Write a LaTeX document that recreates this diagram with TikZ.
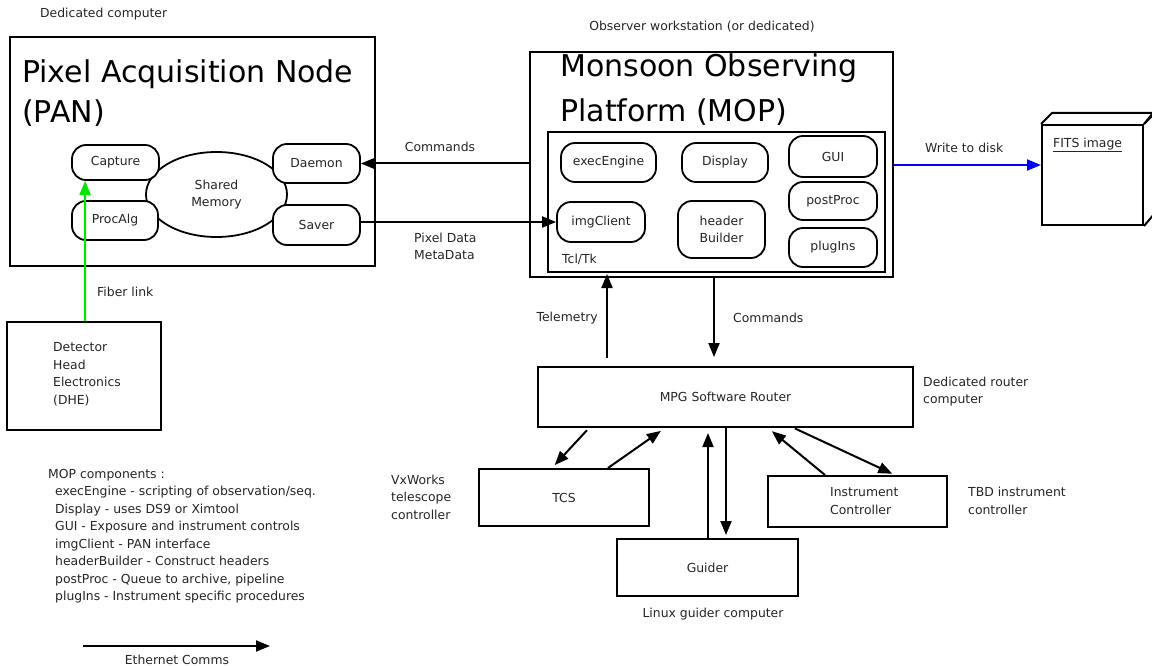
\documentclass[tikz,border=0pt]{standalone}
\usepackage{fontspec}
\setmainfont{DejaVu Sans}
\usetikzlibrary{arrows.meta,shapes.geometric}
\begin{document}
\begin{tikzpicture}[x=1pt,y=-1pt,
  every node/.style={font=\fontsize{12.4}{17.5}\selectfont, inner sep=0pt, text=black!85},
  box/.style={draw, line width=2pt, rectangle},
  pill/.style={draw, line width=1.8pt, rounded corners=14pt, fill=white, align=center},
  arr/.style={line width=2pt, -{Triangle[length=14pt,width=11pt]}},
  big/.style={font=\fontsize{30}{40}\selectfont, anchor=base west, text=black},
  txt/.style={align=left, anchor=west},
]
\useasboundingbox (0,0) rectangle (1152,666);
\fill[white] (0,0) rectangle (1152,666);

% ---------- PAN ----------
\node[box, minimum width=365, minimum height=229] (PAN) at (192.5,151.5) {};
\node[big] (pant1) at (22,83) {Pixel Acquisition Node};
\node[big] (pant2) at (22,123) {(PAN)};
\node[draw, line width=1.8pt, ellipse, minimum width=141, minimum height=85, align=center] (SM) at (216.5,194.5) {Shared\\Memory};
\node[pill, minimum width=87, minimum height=35] (Capture) at (115.5,162.5) {Capture};
\node[pill, minimum width=86, minimum height=39] (ProcAlg) at (115,220.5) {ProcAlg};
\node[pill, minimum width=87, minimum height=39] (Daemon) at (316.5,163.5) {Daemon};
\node[pill, minimum width=87, minimum height=40] (Saver) at (316.5,225) {Saver};
\node[anchor=west] (dedc) at (40,14) {Dedicated computer};

% ---------- MOP ----------
\node[box, minimum width=363, minimum height=225] (MOP) at (711.5,164.5) {};
\node[big] (mopt1) at (560,77) {Monsoon Observing};
\node[big] (mopt2) at (560,122) {Platform (MOP)};
\node[box, minimum width=337, minimum height=140] (TCL) at (716.5,202) {};
\node[anchor=west] (tcltk) at (562,259) {Tcl/Tk};
\node[pill, minimum width=95, minimum height=39] (exec) at (608.5,162.5) {execEngine};
\node[pill, minimum width=86, minimum height=39] (disp) at (725,162.5) {Display};
\node[pill, minimum width=88, minimum height=41] (gui) at (833,156.5) {GUI};
\node[pill, minimum width=88, minimum height=38] (post) at (833,201) {postProc};
\node[pill, minimum width=88, minimum height=39] (plug) at (833,247.5) {plugIns};
\node[pill, minimum width=88, minimum height=40] (img) at (601,222) {imgClient};
\node[pill, minimum width=87, minimum height=57] (hdr) at (721.5,229.5) {header\\Builder};
\node (obs) at (702,27) {Observer workstation (or dedicated)};

% ---------- PAN <-> MOP ----------
\draw[arr] (MOP.west |- Daemon.east) -- (Daemon.east);
\node (cmdl) at (440,147) {Commands};
\draw[arr] ([yshift=3pt]Saver.east) -- (img.west);
\node[txt] (pdl) at (414,246.5) {Pixel Data\\MetaData};

% ---------- FITS ----------
\node[box, minimum width=101, minimum height=100] (FITS) at (1092.5,175) {};
\draw[line width=2pt, line join=round] (FITS.north west) -- ++(11,-11) -- ++(101,0) -- (FITS.north east);
\draw[line width=2pt, line join=round] (FITS.north east) -- ++(11,-11) -- ++(0,100) -- (FITS.south east);
\node[anchor=west] (fitsl) at (1053,145) {\underline{FITS image}};
\draw[arr, blue] ([yshift=-0.5pt]MOP.east) -- ([yshift=-0.5pt]MOP.east -| FITS.west);
\node[anchor=west] (wtd) at (925,148) {Write to disk};

% ---------- Router ----------
\node[box, minimum width=375, minimum height=60] (R) at (725.5,397) {MPG Software Router};
\node[txt] (drc) at (923,391.5) {Dedicated router\\computer};
\coordinate (telx) at (607,0);
\coordinate (cmdx) at (714,0);
\draw[arr, shorten <=8pt, shorten >=-4pt] (R.north -| telx) -- (MOP.south -| telx);
\node[anchor=east] (telel) at (598,318) {Telemetry};
\draw[arr, shorten >=9pt] (MOP.south -| cmdx) -- (R.north -| cmdx);
\node[anchor=west] (cmd2l) at (733,318) {Commands};

% ---------- TCS ----------
\node[box, minimum width=170, minimum height=57] (TCS) at (564,497.5) {TCS};
\node[txt] (vxl) at (391,497) {VxWorks\\telescope\\controller};
\draw[arr, shorten <=3pt, shorten >=4pt] ([xshift=52pt]R.south west) -- ([xshift=74pt]TCS.north west);
\draw[arr, shorten >=5pt] ([xshift=130pt]TCS.north west) -- ([xshift=128pt]R.south west);

% ---------- Guider ----------
\node[box, minimum width=181, minimum height=57] (G) at (707.5,567.5) {Guider};
\node (lgc) at (713,614) {Linux guider computer};
\draw[arr, shorten >=5pt] ([xshift=92pt]G.north west) -- ([xshift=171pt]R.south west);
\draw[arr, shorten >=3pt] ([xshift=189pt]R.south west) -- ([xshift=110pt]G.north west);

% ---------- Instrument Controller ----------
\node[box, minimum width=179, minimum height=51] (IC) at (857.5,501.5) {};
\node[txt] (icl) at (830,501) {Instrument\\Controller};
\node[txt] (tbdl) at (968,501) {TBD instrument\\controller};
\draw[arr, shorten >=5pt] ([xshift=58pt]IC.north west) -- ([xshift=231pt]R.south west);
\draw[arr, shorten <=1pt, shorten >=3pt] ([xshift=257pt]R.south west) -- ([xshift=128pt]IC.north west);

% ---------- DHE ----------
\node[box, minimum width=154, minimum height=108] (DHE) at (84,376) {};
\node[txt] (dhel) at (53,374.5) {Detector\\Head\\Electronics\\(DHE)};
\draw[arr, color={rgb,255:red,0;green,230;blue,0}] ([xshift=79pt]DHE.north west) -- ([xshift=14pt]Capture.south west);
\node[anchor=west] (fibl) at (97,292) {Fiber link};

% ---------- Legend ----------
\node[txt] (legend) at (48,536) {MOP components :\\
\hspace*{7pt}execEngine - scripting of observation/seq.\\
\hspace*{7pt}Display - uses DS9 or Ximtool\\
\hspace*{7pt}GUI - Exposure and instrument controls\\
\hspace*{7pt}imgClient - PAN interface\\
\hspace*{7pt}headerBuilder - Construct headers\\
\hspace*{7pt}postProc - Queue to archive, pipeline\\
\hspace*{7pt}plugIns - Instrument specific procedures};
\coordinate (e1) at (83,646);
\coordinate (e2) at (270,646);
\draw[arr] (e1) -- (e2);
\node (ethl) at (177,660) {Ethernet Comms};
\end{tikzpicture}
\end{document}
